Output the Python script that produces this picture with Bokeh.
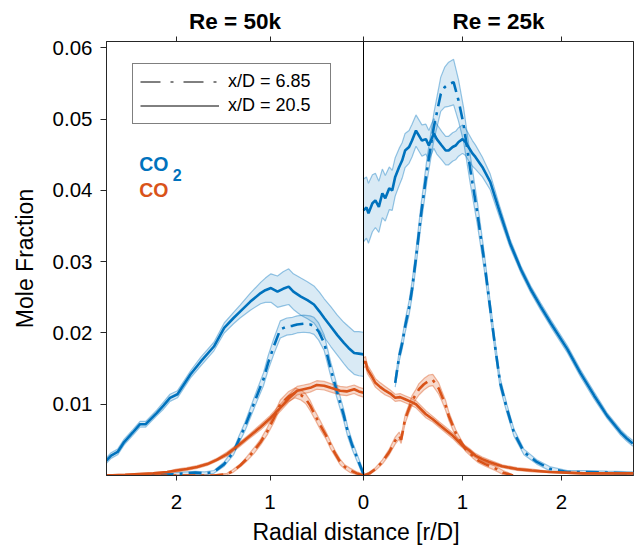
import numpy as np
from bokeh.plotting import figure
from bokeh.models import (Range1d, LinearAxis, FixedTicker, Label, Legend,
                          LegendItem, Span)
from bokeh.embed import file_html
from bokeh.resources import INLINE

# ---------------- data (radial distance r/D, mole fraction) ----------------
# Re = 50k (left panel), CO2, x/D = 20.5
L_CO2_205_r = [0.00, 0.05, 0.10, 0.16, 0.21, 0.28, 0.35, 0.42, 0.47, 0.53,
               0.60, 0.67, 0.75, 0.80, 0.86, 0.92, 0.99, 1.05, 1.10, 1.21,
               1.32, 1.39, 1.49, 1.60, 1.74, 1.85, 1.92, 1.99, 2.07, 2.14,
               2.21, 2.33, 2.39, 2.47, 2.56, 2.63, 2.70, 2.75]
L_CO2_205_v = [0.0170, 0.0171, 0.0172, 0.0179, 0.0186, 0.0197, 0.0209, 0.0221, 0.0230, 0.0240,
               0.0246, 0.0251, 0.0258, 0.0265, 0.0262, 0.0258, 0.0263, 0.0260, 0.0256, 0.0244,
               0.0230, 0.0221, 0.0207, 0.0181, 0.0160, 0.0142, 0.0128, 0.0114, 0.0109, 0.0098,
               0.0088, 0.0072, 0.0072, 0.0060, 0.0047, 0.0033, 0.0028, 0.0021]
L_CO2_205_e = [0.0031, 0.0031, 0.0030, 0.0030, 0.0029, 0.0028, 0.0028, 0.0027, 0.0027, 0.0026,
               0.0026, 0.0026, 0.0025, 0.0025, 0.0024, 0.0022, 0.0020, 0.0017, 0.0015, 0.0012,
               0.0009, 0.0008, 0.0007, 0.0006, 0.0006, 0.0005, 0.0005, 0.0005, 0.0005, 0.0005,
               0.0004, 0.0004, 0.0004, 0.0004, 0.0004, 0.0004, 0.0004, 0.0004]

# Re = 50k, CO2, x/D = 6.85
L_CO2_685_r = [0.00, 0.06, 0.12, 0.17, 0.21, 0.28, 0.35, 0.42, 0.48, 0.53,
               0.57, 0.64, 0.71, 0.76, 0.82, 0.89, 0.96, 1.02, 1.07, 1.14,
               1.21, 1.27, 1.33, 1.39, 1.49, 1.60, 1.70, 1.80, 1.90, 2.00,
               2.20, 2.45, 2.75]
L_CO2_685_v = [0.0002, 0.0022, 0.0042, 0.0062, 0.0084, 0.0116, 0.0149, 0.0186, 0.0202, 0.0210,
               0.0212, 0.0213, 0.0212, 0.0210, 0.0209, 0.0205, 0.0181, 0.0158, 0.0135, 0.0112,
               0.0088, 0.0068, 0.0051, 0.0033, 0.0016, 0.0005, 0.0003, 0.0004, 0.0003, 0.0002,
               0.0001, 0.0000, 0.0000]
L_CO2_685_e = [0.0004, 0.0005, 0.0006, 0.0007, 0.0008, 0.0009, 0.0010, 0.0011, 0.0012, 0.0012,
               0.0012, 0.0012, 0.0012, 0.0012, 0.0012, 0.0012, 0.0011, 0.0010, 0.0009, 0.0008,
               0.0007, 0.0006, 0.0005, 0.0004, 0.0003, 0.0002, 0.0002, 0.0002, 0.0002, 0.0002,
               0.0001, 0.0001, 0.0001]

# Re = 50k, CO, x/D = 20.5
L_CO_205_r = [0.00, 0.05, 0.10, 0.18, 0.25, 0.35, 0.42, 0.50, 0.57, 0.64,
              0.71, 0.80, 0.89, 1.00, 1.10, 1.22, 1.34, 1.46, 1.57, 1.67,
              1.78, 1.89, 2.00, 2.10, 2.25, 2.40, 2.55, 2.75]
L_CO_205_v = [0.0116, 0.0118, 0.0121, 0.0118, 0.0119, 0.0123, 0.0126, 0.0127, 0.0123, 0.0121,
              0.0119, 0.0108, 0.0095, 0.0080, 0.0068, 0.0055, 0.0042, 0.0030, 0.0022, 0.0016,
              0.0012, 0.0009, 0.0007, 0.0005, 0.0003, 0.0002, 0.0001, 0.0000]
L_CO_205_e = [0.0006, 0.0006, 0.0006, 0.0006, 0.0006, 0.0006, 0.0006, 0.0006, 0.0006, 0.0006,
              0.0006, 0.0005, 0.0005, 0.0004, 0.0004, 0.0003, 0.0003, 0.0003, 0.0002, 0.0002,
              0.0002, 0.0002, 0.0002, 0.0001, 0.0001, 0.0001, 0.0001, 0.0001]

# Re = 50k, CO, x/D = 6.85
L_CO_685_r = [0.00, 0.07, 0.14, 0.20, 0.25, 0.30, 0.35, 0.40, 0.46, 0.52,
              0.57, 0.62, 0.67, 0.73, 0.80, 0.89, 0.96, 1.03, 1.10, 1.17,
              1.25, 1.32, 1.40, 1.46, 1.60, 1.80, 2.10, 2.40, 2.75]
L_CO_685_v = [0.0000, 0.0003, 0.0007, 0.0012, 0.0019, 0.0030, 0.0042, 0.0056, 0.0070, 0.0085,
              0.0098, 0.0108, 0.0113, 0.0116, 0.0111, 0.0100, 0.0080, 0.0062, 0.0047, 0.0035,
              0.0023, 0.0014, 0.0006, 0.0002, 0.0000, 0.0000, 0.0000, 0.0000, 0.0000]
L_CO_685_e = [0.0002, 0.0002, 0.0003, 0.0003, 0.0004, 0.0004, 0.0005, 0.0005, 0.0006, 0.0006,
              0.0007, 0.0007, 0.0007, 0.0007, 0.0007, 0.0006, 0.0006, 0.0005, 0.0004, 0.0004,
              0.0003, 0.0002, 0.0002, 0.0001, 0.0001, 0.0001, 0.0001, 0.0001, 0.0001]

# Re = 25k (right panel), CO2, x/D = 20.5
R_CO2_205_r = [0.00, 0.03, 0.05, 0.09, 0.12, 0.155, 0.19, 0.22, 0.26, 0.29,
               0.32, 0.36, 0.39, 0.42, 0.46, 0.49, 0.53, 0.56, 0.59, 0.63,
               0.66, 0.71, 0.74, 0.79, 0.83, 0.86, 0.90, 0.93, 0.96, 1.00,
               1.03, 1.06, 1.10, 1.13, 1.20, 1.28, 1.38, 1.48, 1.59, 1.69,
               1.79, 1.89, 2.06, 2.19, 2.33, 2.46, 2.60, 2.66, 2.72]
R_CO2_205_v = [0.0372, 0.0376, 0.0368, 0.0382, 0.0386, 0.0377, 0.0396, 0.0389, 0.0403, 0.0400,
               0.0419, 0.0433, 0.0442, 0.0456, 0.0461, 0.0470, 0.0484, 0.0477, 0.0470, 0.0472,
               0.0463, 0.0480, 0.0472, 0.0463, 0.0456, 0.0456, 0.0461, 0.0463, 0.0468, 0.0472,
               0.0468, 0.0461, 0.0452, 0.0447, 0.0433, 0.0412, 0.0368, 0.0326, 0.0289, 0.0261,
               0.0237, 0.0214, 0.0177, 0.0144, 0.0112, 0.0084, 0.0060, 0.0052, 0.0045]
R_CO2_205_e = [0.0044, 0.0043, 0.0042, 0.0040, 0.0038, 0.0036, 0.0034, 0.0032, 0.0030, 0.0028,
               0.0027, 0.0026, 0.0025, 0.0024, 0.0023, 0.0023, 0.0022, 0.0022, 0.0022, 0.0021,
               0.0021, 0.0021, 0.0021, 0.0020, 0.0020, 0.0020, 0.0020, 0.0020, 0.0020, 0.0020,
               0.0019, 0.0019, 0.0018, 0.0017, 0.0014, 0.0011, 0.0008, 0.0006, 0.0005, 0.0005,
               0.0005, 0.0005, 0.0005, 0.0005, 0.0005, 0.0004, 0.0004, 0.0004, 0.0004]

# Re = 25k, CO2, x/D = 6.85
R_CO2_685_r = [0.32, 0.36, 0.39, 0.42, 0.46, 0.49, 0.53, 0.58, 0.64, 0.71,
               0.78, 0.82, 0.86, 0.91, 0.96, 1.01, 1.08, 1.15, 1.22, 1.27,
               1.33, 1.38, 1.45, 1.52, 1.62, 1.75, 1.89, 2.06, 2.22, 2.46,
               2.73]
R_CO2_685_v = [0.0130, 0.0167, 0.0185, 0.0209, 0.0235, 0.0261, 0.0305, 0.0365, 0.0428, 0.0489,
               0.0535, 0.0545, 0.0549, 0.0552, 0.0526, 0.0493, 0.0428, 0.0368, 0.0300, 0.0245,
               0.0180, 0.0130, 0.0093, 0.0060, 0.0033, 0.0019, 0.0009, 0.0005, 0.0005, 0.0004,
               0.0003]
R_CO2_685_e = [0.0006, 0.0007, 0.0008, 0.0009, 0.0010, 0.0011, 0.0012, 0.0014, 0.0016, 0.0019,
               0.0024, 0.0028, 0.0031, 0.0032, 0.0029, 0.0024, 0.0020, 0.0016, 0.0012, 0.0010,
               0.0008, 0.0007, 0.0006, 0.0005, 0.0004, 0.0003, 0.0003, 0.0002, 0.0002, 0.0002,
               0.0002]

# Re = 25k, CO, x/D = 20.5
R_CO_205_r = [0.00, 0.02, 0.04, 0.08, 0.12, 0.17, 0.22, 0.27, 0.32, 0.37,
              0.42, 0.47, 0.53, 0.58, 0.63, 0.70, 0.76, 0.83, 0.90, 0.95,
              1.00, 1.07, 1.13, 1.20, 1.27, 1.40, 1.55, 1.70, 1.88, 2.05,
              2.22, 2.45, 2.73]
R_CO_205_v = [0.0158, 0.0160, 0.0149, 0.0140, 0.0130, 0.0124, 0.0119, 0.0115, 0.0109, 0.0110,
              0.0107, 0.0104, 0.0100, 0.0093, 0.0086, 0.0079, 0.0072, 0.0064, 0.0056, 0.0049,
              0.0042, 0.0035, 0.0028, 0.0023, 0.0019, 0.0013, 0.0009, 0.0007, 0.0005, 0.0004,
              0.0003, 0.0003, 0.0003]
R_CO_205_e = [0.0007, 0.0007, 0.0006, 0.0006, 0.0006, 0.0006, 0.0006, 0.0005, 0.0005, 0.0005,
              0.0005, 0.0005, 0.0005, 0.0005, 0.0005, 0.0004, 0.0004, 0.0004, 0.0004, 0.0004,
              0.0003, 0.0003, 0.0003, 0.0003, 0.0003, 0.0002, 0.0002, 0.0002, 0.0001, 0.0001,
              0.0001, 0.0001, 0.0001]

# Re = 25k, CO, x/D = 6.85
R_CO_685_r = [0.00, 0.06, 0.12, 0.19, 0.26, 0.32, 0.36, 0.38, 0.42, 0.46,
              0.49, 0.53, 0.56, 0.61, 0.66, 0.70, 0.73, 0.76, 0.79, 0.83,
              0.86, 0.93, 0.98, 1.03, 1.10, 1.16, 1.23, 1.30, 1.36, 1.41,
              1.46, 1.51]
R_CO_685_v = [0.0000, 0.0003, 0.0009, 0.0019, 0.0033, 0.0049, 0.0056, 0.0050, 0.0079, 0.0094,
              0.0105, 0.0114, 0.0121, 0.0128, 0.0133, 0.0134, 0.0128, 0.0122, 0.0112, 0.0098,
              0.0084, 0.0060, 0.0048, 0.0037, 0.0028, 0.0021, 0.0016, 0.0012, 0.0008, 0.0004,
              0.0002, 0.0000]
R_CO_685_e = [0.0001, 0.0002, 0.0002, 0.0003, 0.0004, 0.0005, 0.0005, 0.0005, 0.0006, 0.0006,
              0.0007, 0.0007, 0.0008, 0.0008, 0.0008, 0.0008, 0.0008, 0.0008, 0.0007, 0.0007,
              0.0006, 0.0005, 0.0004, 0.0003, 0.0003, 0.0003, 0.0003, 0.0003, 0.0003, 0.0003,
              0.0002, 0.0001]

panel_titles = ["Re = 50k", "Re = 25k"]
legend_labels = ["x/D = 6.85", "x/D = 20.5"]
y_ticks = [0.01, 0.02, 0.03, 0.04, 0.05, 0.06]
x_tick_labels = ["2", "1", "0", "1", "2"]
x_title = "Radial distance [r/D]"

BLUE = "#0072BD"
ORANGE = "#D95319"
FONT = "Liberation Sans"
AX = "#262626"
DASH = "13 6 3 6"

# px per r/D unit: left panel 93.5, right panel 99 (shared pixel origin at r = 0)
K = 93.5 / 99

# ---------------- figure ----------------
p = figure(width=636, height=547, output_backend="svg", toolbar_location=None,
           x_range=Range1d(-2.596, 2.727), y_range=Range1d(0, 0.0609),
           min_border_left=106, min_border_right=3, min_border_top=41,
           min_border_bottom=70)
# left panel (Re = 50k) uses its own reversed radial scale
p.extra_x_ranges = {"left": Range1d(2.749, -2.888)}
p.grid.visible = False
p.outline_line_color = AX
p.outline_line_width = 1
p.background_fill_color = "white"
p.border_fill_color = "white"

# tick positions on the main scale (left-panel ticks converted)
xt = [-2 * K, -1 * K, 0, 1, 2]
xb = p.xaxis[0]
xb.ticker = FixedTicker(ticks=xt)
xb.major_label_overrides = {t: s for t, s in zip(xt, x_tick_labels)}
xb.axis_line_color = AX
xb.major_tick_line_color = AX
xb.major_tick_out = 5
xb.major_tick_in = 0
xb.minor_tick_line_color = None
xb.major_label_text_font = FONT
xb.major_label_text_font_size = "20.5px"
xb.major_label_text_color = "black"
xb.major_label_standoff = 14

# x title on a second, tick-less bottom axis so it can sit where the reference has it
xt2 = [-0.076]
xb2 = LinearAxis(ticker=FixedTicker(ticks=xt2),
                 major_label_overrides={xt2[0]: x_title},
                 axis_line_color=None, major_tick_line_color=None,
                 minor_tick_line_color=None, major_tick_out=0, major_tick_in=0,
                 major_label_standoff=7, major_label_text_font=FONT,
                 major_label_text_font_size="23px", major_label_text_color="black")
p.add_layout(xb2, "below")

# top axis: panel titles as labels, tick marks as minor ticks
title_pos = [-(363 - 234.5) / 99, (498 - 363) / 99]
top = LinearAxis(ticker=FixedTicker(ticks=title_pos, minor_ticks=xt),
                 major_label_overrides={t: s for t, s in zip(title_pos, panel_titles)},
                 axis_line_color=AX, major_tick_line_color=None,
                 major_tick_out=0, major_tick_in=0,
                 minor_tick_line_color=AX, minor_tick_out=5, minor_tick_in=0,
                 major_label_standoff=3, major_label_text_font=FONT,
                 major_label_text_font_size="22.5px",
                 major_label_text_font_style="bold", major_label_text_color="black")
p.add_layout(top, "above")

yl = p.yaxis[0]
yl.ticker = FixedTicker(ticks=y_ticks)
yl.axis_line_color = AX
yl.major_tick_line_color = AX
yl.major_tick_out = 6
yl.major_tick_in = 0
yl.minor_tick_line_color = None
yl.major_label_text_font = FONT
yl.major_label_text_font_size = "20.5px"
yl.major_label_text_color = "black"
yl.major_label_standoff = 8
yl.axis_label = "Mole Fraction"
yl.axis_label_text_font = FONT
yl.axis_label_text_font_size = "23px"
yl.axis_label_text_font_style = "normal"
yl.axis_label_text_color = "black"
yl.axis_label_standoff = 12


def band(r, v, e, color, alpha, rng):
    r = np.asarray(r, dtype=float)
    v = np.asarray(v, dtype=float)
    e = np.asarray(e, dtype=float)
    kw = {} if rng is None else {"x_range_name": rng}
    p.varea(x=r, y1=v - e, y2=v + e, fill_color=color, fill_alpha=alpha, **kw)
    p.line(r, v - e, line_color=color, line_alpha=0.4, line_width=1.2, **kw)
    p.line(r, v + e, line_color=color, line_alpha=0.4, line_width=1.2, **kw)


def curve(r, v, color, dash, rng):
    kw = {} if rng is None else {"x_range_name": rng}
    p.line(np.asarray(r, dtype=float), np.asarray(v, dtype=float), line_color=color,
           line_width=2.6, line_dash=dash, **kw)


series = [
    (L_CO2_205_r, L_CO2_205_v, L_CO2_205_e, BLUE, 0.15, "solid", "left"),
    (L_CO2_685_r, L_CO2_685_v, L_CO2_685_e, BLUE, 0.15, DASH, "left"),
    (L_CO_205_r, L_CO_205_v, L_CO_205_e, ORANGE, 0.22, "solid", "left"),
    (L_CO_685_r, L_CO_685_v, L_CO_685_e, ORANGE, 0.22, DASH, "left"),
    (R_CO2_205_r, R_CO2_205_v, R_CO2_205_e, BLUE, 0.15, "solid", None),
    (R_CO2_685_r, R_CO2_685_v, R_CO2_685_e, BLUE, 0.15, DASH, None),
    (R_CO_205_r, R_CO_205_v, R_CO_205_e, ORANGE, 0.22, "solid", None),
    (R_CO_685_r, R_CO_685_v, R_CO_685_e, ORANGE, 0.22, DASH, None),
]
for r, v, e, c, a, d, rng in series:
    band(r, v, e, c, a, rng)
for r, v, e, c, a, d, rng in series:
    curve(r, v, c, d, rng)

# centre line between the two panels (r/D = 0)
p.add_layout(Span(location=0, dimension="height", line_color="black", line_width=1))

# legend with black sample lines (renderers carry no visible data)
d1 = p.line(x=[np.nan], y=[np.nan], line_color="black", line_width=1,
            line_dash="20 10 3 10")
d2 = p.line(x=[np.nan], y=[np.nan], line_color="black", line_width=1)
leg = Legend(items=[LegendItem(label=legend_labels[0], renderers=[d1]),
                    LegendItem(label=legend_labels[1], renderers=[d2])],
             location=(26, 351), orientation="vertical",
             label_text_font=FONT, label_text_font_size="18px",
             label_text_color="black",
             glyph_width=79, glyph_height=21, label_height=21, label_width=95,
             label_standoff=9, spacing=3, padding=7, margin=0,
             border_line_color="black", border_line_width=1,
             background_fill_color="white", background_fill_alpha=1)
p.add_layout(leg)

# species labels
p.add_layout(Label(x=2.40, y=0.0437, x_range_name="left", text="CO",
                   text_align="left", text_baseline="middle", text_font=FONT,
                   text_font_size="19.5px", text_font_style="bold", text_color=BLUE))
p.add_layout(Label(x=2.04, y=0.0421, x_range_name="left", text="2",
                   text_align="left", text_baseline="middle", text_font=FONT,
                   text_font_size="16px", text_font_style="bold", text_color=BLUE))
p.add_layout(Label(x=2.40, y=0.0400, x_range_name="left", text="CO",
                   text_align="left", text_baseline="middle", text_font=FONT,
                   text_font_size="19.5px", text_font_style="bold", text_color=ORANGE))

open("out.html", "w").write(file_html(p, INLINE))
